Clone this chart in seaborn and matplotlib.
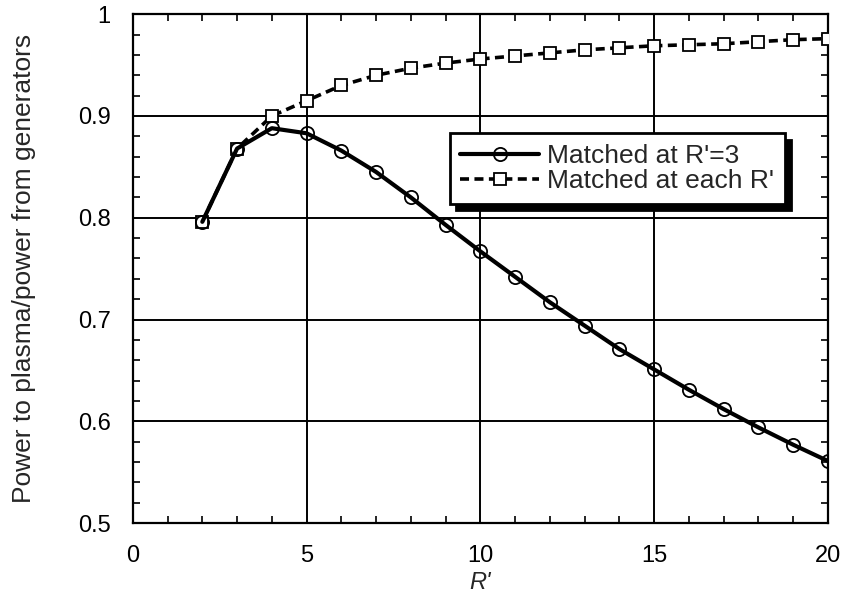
import matplotlib
matplotlib.use("Agg")
import matplotlib.pyplot as plt
import seaborn as sns
import pandas as pd
from matplotlib.ticker import MultipleLocator

r_prime = [2, 3, 4, 5, 6, 7, 8, 9, 10, 11, 12, 13, 14, 15, 16, 17, 18, 19, 20]
matched_at_3 = [0.796, 0.868, 0.888, 0.883, 0.866, 0.845, 0.820, 0.793, 0.767,
                0.742, 0.717, 0.694, 0.671, 0.651, 0.631, 0.612, 0.594, 0.577, 0.561]
matched_each = [0.796, 0.868, 0.900, 0.915, 0.930, 0.940, 0.947, 0.952, 0.956,
                0.959, 0.962, 0.965, 0.967, 0.969, 0.970, 0.971, 0.973, 0.975, 0.976]
x_ticks = [0, 5, 10, 15, 20]
y_ticks = [0.5, 0.6, 0.7, 0.8, 0.9, 1.0]
y_tick_labels = ["0.5", "0.6", "0.7", "0.8", "0.9", "1"]

sns.set_style("ticks")
plt.rcParams['font.family'] = ['Liberation Sans', 'DejaVu Sans']

df = pd.DataFrame({"R": r_prime, "a": matched_at_3, "b": matched_each})

fig = plt.figure(figsize=(8.46, 5.93), dpi=100)
ax = fig.add_axes([0.157, 0.118, 0.8215, 0.858])

sns.lineplot(data=df, x="R", y="b", ax=ax, color="black", linewidth=2.6,
             linestyle=(0, (2.5, 1.5)), marker="s", markersize=9,
             markerfacecolor="white", markeredgecolor="black", markeredgewidth=1.3,
             label="Matched at each R'", zorder=3)
sns.lineplot(data=df, x="R", y="a", ax=ax, color="black", linewidth=3.0,
             marker="o", markersize=9.5, markerfacecolor="none",
             markeredgecolor="black", markeredgewidth=1.3,
             label="Matched at R'=3", zorder=4)

ax.set_xlim(0, 20)
ax.set_ylim(0.5, 1.0)
ax.set_xticks(x_ticks)
ax.set_yticks(y_ticks)
ax.set_yticklabels(y_tick_labels)
ax.xaxis.set_minor_locator(MultipleLocator(1))
ax.yaxis.set_minor_locator(MultipleLocator(0.02))
ax.tick_params(which="both", direction="in", top=True, right=True, width=1.2,
               labelsize=17, colors="black")
ax.tick_params(which="major", length=0, pad=16)
ax.tick_params(which="minor", length=5)
ax.grid(True, which="major", color="black", linewidth=1.4)
for s in ax.spines.values():
    s.set_linewidth(1.6)
    s.set_color("black")

ax.set_xlabel("R'", fontsize=17, labelpad=2.5, fontstyle="italic")
ax.set_ylabel("Power to plasma/power from generators", fontsize=19, labelpad=30)

handles, labels = ax.get_legend_handles_labels()
leg = ax.legend(handles[::-1], labels[::-1], loc="upper right",
                bbox_to_anchor=(0.938, 0.766), fontsize=19, frameon=True,
                fancybox=False, edgecolor="black", framealpha=1,
                shadow={"color": "black", "alpha": 1, "ox": 4.5, "oy": -4.5},
                handlelength=3.0, handletextpad=0.3, borderpad=0.4,
                borderaxespad=0, labelspacing=0.05, numpoints=1)
leg.get_frame().set_linewidth(2)

fig.savefig("out.png", dpi=100)
